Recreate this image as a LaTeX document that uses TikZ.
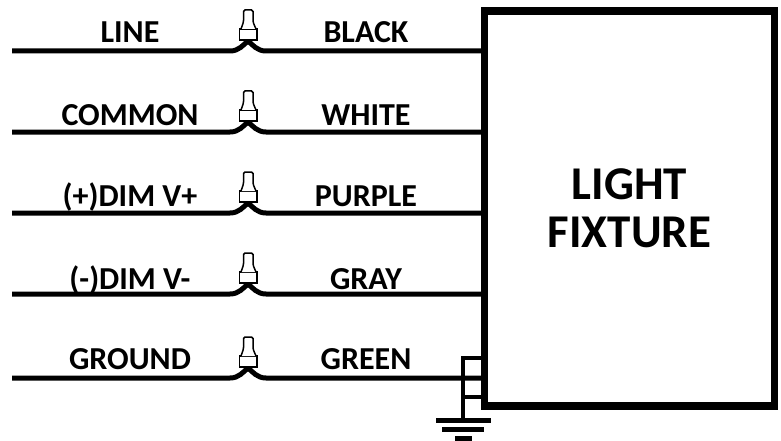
\documentclass[tikz,border=0pt]{standalone}
\usepackage{fontspec}
\setmainfont{Carlito}
\usetikzlibrary{calc, positioning}
\tikzset{
  wire/.style={line width=5pt},
  gndwire/.style={line width=4.6pt},
  nut/.style={line width=1.5pt, rounded corners=1.5pt, fill=white},
  lbl/.style={font=\bfseries\fontsize{32}{34}\selectfont, inner sep=0pt, anchor=base},
  bar/.style={line width=5pt},
}
\begin{document}
\begin{tikzpicture}[x=1pt, y=-1pt]
  \useasboundingbox (0, 0) rectangle (781, 441);

  \node[draw, line width=7.5pt, minimum width=290pt, minimum height=395pt, inner sep=0pt,
        align=center, font=\bfseries\fontsize{47}{48}\selectfont] (fixture) at (629.5, 208.5) {LIGHT\\FIXTURE};

  \foreach \i/\y/\dy/\ltxt/\rtxt in {1/51/8/LINE/BLACK, 2/132/7/COMMON/WHITE,
      3/213/7/(+)DIM V+/PURPLE, 4/294/5/(-)DIM V-/GRAY, 5/378/9/GROUND/GREEN} {
    \coordinate (start\i) at (12, \y);
    \coordinate (join\i) at (248, \y - 10);
    \coordinate (stub\i) at (fixture.west |- start\i);
    \draw[wire] (start\i) -- (230, \y) .. controls (239, \y) and (243, \y - 6) .. (join\i)
      .. controls (253, \y - 6) and (257, \y) .. (266, \y) -- (stub\i);

    % wire nut
    \draw[nut, sharp corners] (239.5, \y - 11) rectangle (257, \y - 22);
    \draw[nut] (241, \y - 22) -- (243.5, \y - 29) -- (243.5, \y - 41) -- (253, \y - 41) -- (253, \y - 29) -- (256, \y - 22);

    \node[lbl] (left\i) at (130, \y - \dy) {\ltxt};
    \node[lbl] (right\i) at (366, \y - \dy) {\rtxt};
  }

  % ground
  \coordinate (gndtop) at (463, 358);
  \coordinate (gndlow) at (463, 418);
  \draw[gndwire] (fixture.west |- gndtop) -- (gndtop) -- (gndlow);
  \draw[gndwire] (fixture.west |- 0, 397) -- (gndtop |- 0, 397);
  \draw[bar] (436, 420) -- (491, 420);
  \draw[bar] (442, 429.5) -- (484, 429.5);
  \draw[bar] (455, 438.5) -- (472, 438.5);
\end{tikzpicture}
\end{document}
